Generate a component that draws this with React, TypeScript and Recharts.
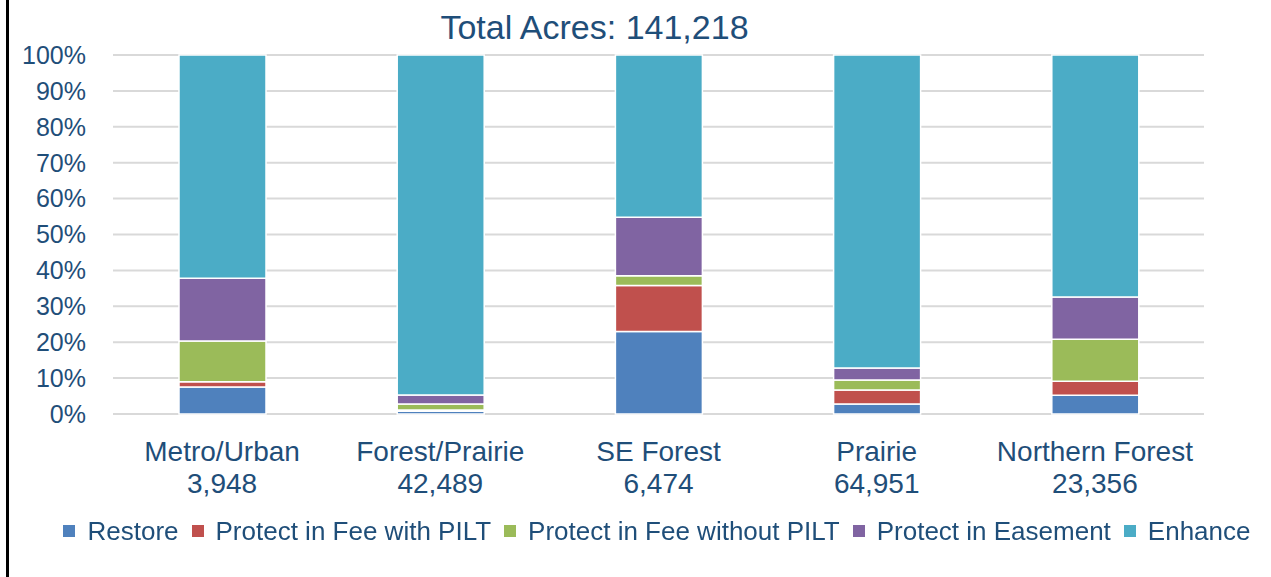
import React from "react";
import { BarChart, Bar, XAxis, YAxis, CartesianGrid, Legend } from "recharts";

const regions = ["Metro/Urban", "Forest/Prairie", "SE Forest", "Prairie", "Northern Forest"];
const regionAcres = ["3,948", "42,489", "6,474", "64,951", "23,356"];

// shares in percent
const restore = [7.5, 0.8, 23.0, 2.8, 5.2];
const feeWithPilt = [1.5, 0.3, 12.8, 3.9, 3.9];
const feeWithoutPilt = [11.3, 1.7, 2.7, 2.8, 11.7];
const easement = [17.5, 2.5, 16.3, 3.3, 11.8];
const enhance = [62.2, 94.7, 45.2, 87.2, 67.4];

const yTicks = [0, 0.1, 0.2, 0.3, 0.4, 0.5, 0.6, 0.7, 0.8, 0.9, 1];

const series = [
  { key: "restore", name: "Restore", color: "#4F81BD" },
  { key: "feeWithPilt", name: "Protect in Fee with PILT", color: "#C0504D" },
  { key: "feeWithoutPilt", name: "Protect in Fee without PILT", color: "#9BBB59" },
  { key: "easement", name: "Protect in Easement", color: "#8064A2" },
  { key: "enhance", name: "Enhance", color: "#4BACC6" },
];

const data = regions.map((region, i) => ({
  region,
  acres: regionAcres[i],
  restore: restore[i],
  feeWithPilt: feeWithPilt[i],
  feeWithoutPilt: feeWithoutPilt[i],
  easement: easement[i],
  enhance: enhance[i],
}));

const textColor = "#1F4E79";
const font = "'Liberation Sans', Arial, sans-serif";

const RegionTick = (props: any) => {
  const { x, y, payload } = props;
  const acres = regionAcres[regions.indexOf(payload.value)];
  return (
    <text x={x} y={y} textAnchor="middle" fill={textColor} fontSize={28} fontFamily={font}>
      <tspan x={x} dy={47}>{payload.value}</tspan>
      <tspan x={x} dy={32}>{acres}</tspan>
    </text>
  );
};

const LegendContent = () => (
  <div
    style={{
      display: "flex",
      justifyContent: "center",
      alignItems: "center",
      fontFamily: font,
      fontSize: 26,
      lineHeight: "30px",
      color: textColor,
      whiteSpace: "nowrap",
    }}
  >
    {series.map((s, i) => (
      <span
        key={s.key}
        style={{ display: "inline-flex", alignItems: "center", marginRight: i < series.length - 1 ? 13 : 0 }}
      >
        <span style={{ width: 12, height: 12, background: s.color, marginRight: 12, display: "inline-block" }} />
        {s.name}
      </span>
    ))}
  </div>
);

export default function App() {
  return (
    <div style={{ position: "fixed", top: 0, left: 0, width: 1271, height: 577, background: "#fff" }}>
      <div style={{ position: "absolute", left: 6, top: 0, width: 3, height: 577, background: "#000" }} />
      <div
        style={{
          position: "absolute",
          left: 0,
          top: 10,
          width: 1189,
          textAlign: "center",
          fontFamily: font,
          fontSize: 34,
          lineHeight: "34px",
          color: textColor,
        }}
      >
        Total Acres: 141,218
      </div>
      <BarChart
        width={1271}
        height={577}
        data={data}
        stackOffset="expand"
        barSize={87}
        margin={{ top: 55, right: 67, left: 0, bottom: 0 }}
      >
        <CartesianGrid vertical={false} stroke="#D9D9D9" strokeWidth={2} />
        <XAxis
          dataKey="region"
          height={163}
          axisLine={false}
          tickLine={false}
          tickSize={0}
          tickMargin={0}
          interval={0}
          tick={<RegionTick />}
        />
        <YAxis
          width={113}
          domain={[0, 1]}
          ticks={yTicks}
          axisLine={false}
          tickLine={false}
          tickSize={0}
          tickMargin={27}
          interval={0}
          tickFormatter={(v: number) => `${Math.round(v * 100)}%`}
          tick={{ fill: textColor, fontSize: 25, fontFamily: font }}
        />
        <Legend
          layout="horizontal"
          verticalAlign="middle"
          content={<LegendContent />}
          wrapperStyle={{ position: "absolute", top: 516, left: 0, width: 1314 }}
        />
        {series.map((s) => (
          <Bar
            key={s.key}
            dataKey={s.key}
            name={s.name}
            stackId="a"
            fill={s.color}
            stroke="#fff"
            strokeWidth={1.5}
            isAnimationActive={false}
          />
        ))}
      </BarChart>
    </div>
  );
}
